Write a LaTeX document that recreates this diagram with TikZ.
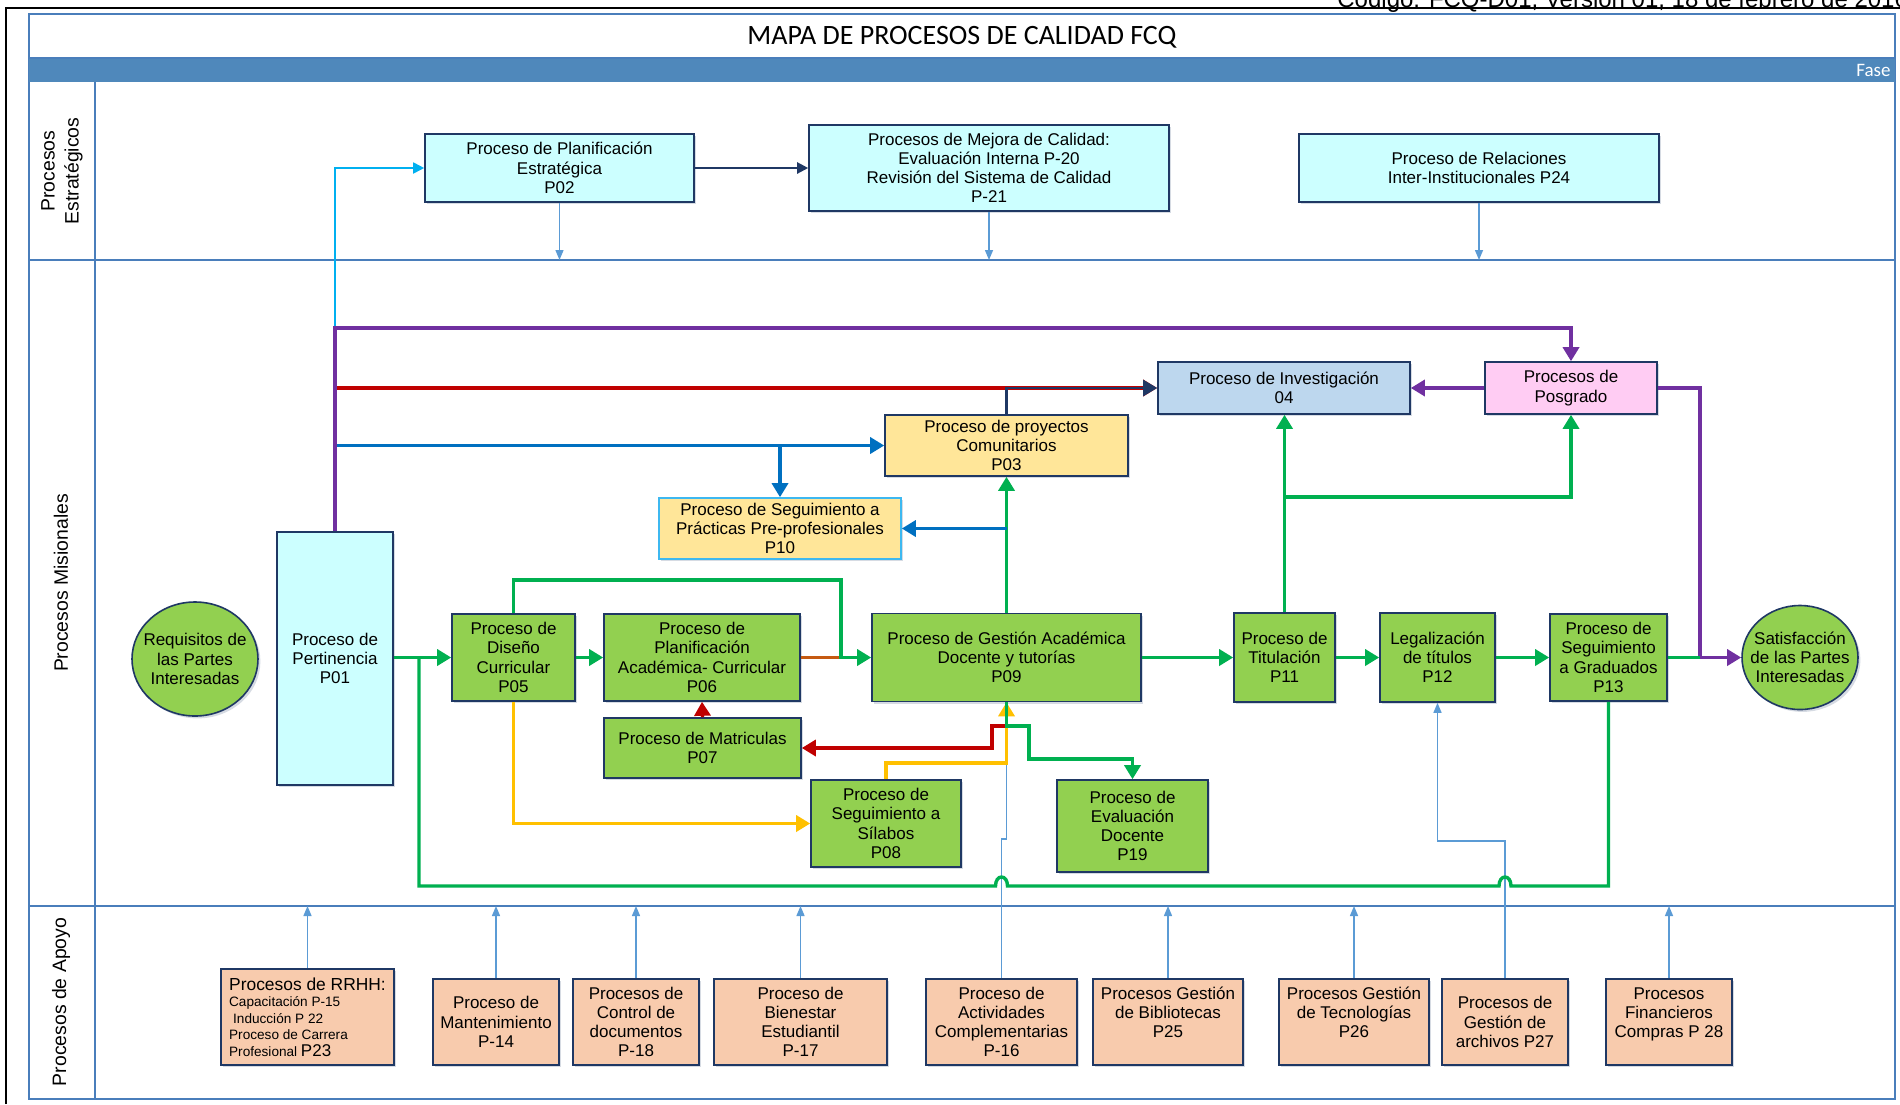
\documentclass[tikz,border=0pt]{standalone}
\usepackage{fontspec}
\setmainfont{Liberation Sans}
\newfontfamily\calib{Carlito}
\usetikzlibrary{arrows.meta,shapes.geometric,shadows,calc}
\definecolor{navyb}{HTML}{1F3864}
\definecolor{gfill}{HTML}{92D050}
\definecolor{cfill}{HTML}{CCFFFF}
\definecolor{yfill}{HTML}{FFE699}
\definecolor{bfill}{HTML}{BDD7EE}
\definecolor{pfill}{HTML}{FFCCF3}
\definecolor{ofill}{HTML}{F8CBAD}
\definecolor{cgreen}{HTML}{00B050}
\definecolor{cpurple}{HTML}{7030A0}
\definecolor{cred}{HTML}{C00000}
\definecolor{cblue}{HTML}{0070C0}
\definecolor{ccyan}{HTML}{00B0F0}
\definecolor{cyellow}{HTML}{FFC000}
\definecolor{corange}{HTML}{C55A11}
\definecolor{cthin}{HTML}{5B9BD5}
\definecolor{lanec}{HTML}{4A7EBB}
\definecolor{faseb}{HTML}{4F88BB}
\definecolor{ptenb}{HTML}{3DB8F0}
\begin{document}
\begin{tikzpicture}[x=0.5pt,y=-0.5pt,
  box/.style={draw=navyb, line width=0.8pt, align=center, inner sep=1pt,
    font=\fontsize{8.5}{9.6}\selectfont,
    drop shadow={shadow xshift=1.2pt, shadow yshift=-1.2pt, opacity=0.18, fill=navyb}},
  txt/.style={align=center, inner sep=0pt, font=\fontsize{8.5}{9.6}\selectfont},
  sz/.style 2 args={minimum width=#1pt, minimum height=#2pt},
  lanelabel/.style={rotate=90, align=center, font=\fontsize{9.7}{12}\selectfont},
  laneline/.style={draw=lanec, line width=0.8pt},
  ln/.style={line width=1.7pt},
  ar/.style={-{Triangle[length=7pt,width=8pt]}},
  thinar/.style={draw=cthin, line width=0.7pt, -{Triangle[length=5pt,width=4pt]}},
  thinln/.style={draw=cthin, line width=0.7pt}
]
\useasboundingbox (0,0) rectangle (1900,1104);
\fill[white] (0,0) rectangle (1900,1104);

% header / frame
\node[anchor=base west, inner sep=0pt, font=\fontsize{12}{14}\selectfont] (codigo) at (1337,7) {Código: FCQ-D01, Versión 01, 18 de febrero de 2016};
\draw[line width=1pt] (6,1104) -- (6,8) -- (1900,8);
\draw[laneline] (29,14) rectangle (1895,1099);
\fill[faseb] (29,58) rectangle (1895,82);
\draw[laneline] (29,58) -- (1895,58);
\node[anchor=east, text=white, inner sep=0pt, font=\calib\fontsize{9.5}{11}\selectfont] (fase) at (1891,70) {Fase};
\node[font=\calib\fontsize{14}{16}\selectfont] (title) at (962,37) {MAPA DE PROCESOS DE CALIDAD FCQ};
\draw[laneline] (29,260) -- (1895,260);
\draw[laneline] (29,906) -- (1895,906);
\draw[laneline] (95,82) -- (95,1099);
\node[lanelabel] (lab1) at (62,171) {Procesos\\Estratégicos};
\node[lanelabel] (lab2) at (61,583) {Procesos Misionales};
\node[lanelabel] (lab3) at (61,1002) {Procesos de Apoyo};

% coordinates
\coordinate (l1) at (95,260);
\coordinate (l2) at (95,906);
\coordinate (pv) at (335,328);
\coordinate (j1) at (841,580);
\coordinate (j2) at (1700,657.5);
\coordinate (j3) at (1284.5,497);
\coordinate (lp) at (419,886);
\coordinate (yy) at (0,763);
\coordinate (g1) at (1029,726);
\coordinate (g2) at (1132.5,759);
\coordinate (r1) at (992,748);
\coordinate (t1) at (0,839);
\coordinate (t2) at (0,841);

% strategic
\node[box, fill=cfill, sz={134.5}{34}] (p02) at (559.5,168) {Proceso de Planificación\\Estratégica\\P02};
\node[box, fill=cfill, sz={180}{43}] (p20) at (989,168) {Procesos de Mejora de Calidad:\\Evaluación Interna P-20\\Revisión del Sistema de Calidad\\P-21};
\node[box, fill=cfill, sz={180}{34}] (p24) at (1479,168) {Proceso de Relaciones\\Inter-Institucionales P24};

% misionales
\node[box, ellipse, fill=gfill, sz={63}{57}, inner sep=0pt] (req) at (195,659) {};
\node[txt] (reqtext) at (req.center) {Requisitos de\\las Partes\\Interesadas};
\node[box, fill=cfill, sz={58}{126.5}] (p01) at (335,658.5) {Proceso de\\Pertinencia\\P01};
\node[box, fill=gfill, sz={61.5}{43.5}] (p05) at (513.5,657.5) {Proceso de\\Diseño\\Curricular\\P05};
\node[box, fill=gfill, sz={98}{43.5}] (p06) at (702,657.5) {Proceso de\\Planificación\\Académica- Curricular\\P06};
\node[box, fill=gfill, sz={134.5}{44}] (p09) at (1006.5,657.5) {Proceso de Gestión Académica\\Docente y tutorías\\P09};
\node[box, fill=yfill, sz={121.5}{30.5}] (p03) at (1006.5,445.5) {Proceso de proyectos\\Comunitarios\\P03};
\node[box, draw=ptenb, fill=yfill, sz={121}{30.5}] (p10) at (780,528.5) {Proceso de Seguimiento a\\Prácticas Pre-profesionales\\P10};
\node[box, fill=bfill, sz={126}{26}] (pinv) at (1284,388) {Proceso de Investigación\\04};
\node[box, fill=pfill, sz={86}{26}] (posg) at (1571,388) {Procesos de\\Posgrado};
\node[box, fill=gfill, sz={50.5}{44.5}] (p11) at (1284.5,657.5) {Proceso de\\Titulación\\P11};
\node[box, fill=gfill, sz={57.5}{44.5}] (p12) at (1437.5,657.5) {Legalización\\de títulos\\P12};
\node[box, fill=gfill, sz={58.5}{43.5}] (p13) at (1608.5,657.5) {Proceso de\\Seguimiento\\a Graduados\\P13};
\node[box, ellipse, fill=gfill, sz={58}{52}, inner sep=0pt] (sat) at (1800,657.5) {};
\node[txt] (sattext) at (sat.center) {Satisfacción\\de las Partes\\Interesadas};
\node[box, fill=gfill, sz={98.5}{30}] (p07) at (702.5,748) {Proceso de Matriculas\\P07};
\node[box, fill=gfill, sz={75}{43.5}] (p08) at (886,823.5) {Proceso de\\Seguimiento a\\Sílabos\\P08};
\node[box, fill=gfill, sz={75.5}{46}] (p19) at (1132.5,826) {Proceso de\\Evaluación\\Docente\\P19};

% apoyo
\node[box, fill=ofill, sz={86.5}{48}, align=left, font=\fontsize{6.8}{8.2}\selectfont] (rrhh) at (307.5,1017)
  {{\fontsize{8.7}{9}\selectfont Procesos de RRHH:}\\Capacitación P-15\\\hspace{2pt}Inducción P 22\\Proceso de Carrera\\Profesional {\fontsize{8.5}{9}\selectfont P23}};
\node[box, fill=ofill, sz={63}{43}] (p14) at (496,1022) {Proceso de\\Mantenimiento\\P-14};
\node[box, fill=ofill, sz={63}{43}] (p18) at (636,1022) {Procesos de\\Control de\\documentos\\P-18};
\node[box, fill=ofill, sz={86.5}{43}] (p17) at (800.5,1022) {Proceso de\\Bienestar\\Estudiantil\\P-17};
\node[box, fill=ofill, sz={75.5}{43}] (p16) at (1001.5,1022) {Proceso de\\Actividades\\Complementarias\\P-16};
\node[box, fill=ofill, sz={75}{43}] (p25) at (1168,1022) {Procesos Gestión\\de Bibliotecas\\P25\\\mbox{}};
\node[box, fill=ofill, sz={75}{43}] (p26) at (1354,1022) {Procesos Gestión\\de Tecnologías\\P26\\\mbox{}};
\node[box, fill=ofill, sz={63}{43}] (p27) at (1505,1022) {Procesos de\\Gestión de\\archivos P27};
\node[box, fill=ofill, sz={63}{43}] (p28) at (1669,1022) {Procesos\\Financieros\\Compras P 28\\\mbox{}};

% thin blue connectors
\draw[thinar] (p02.south) -- (p02.south |- l1);
\draw[thinar] (p20.south) -- (p20.south |- l1);
\draw[thinar] (p24.south) -- (p24.south |- l1);
\draw[thinar] (rrhh.north) -- (rrhh.north |- l2);
\draw[thinar] (p14.north) -- (p14.north |- l2);
\draw[thinar] (p18.north) -- (p18.north |- l2);
\draw[thinar] (p17.north) -- (p17.north |- l2);
\draw[thinar] (p25.north) -- (p25.north |- l2);
\draw[thinar] (p26.north) -- (p26.north |- l2);
\draw[thinar] (p28.north) -- (p28.north |- l2);
\draw[thinar] (p16.north) -- (p16.north |- t1) -| (p09.south);
\draw[thinar] (p27.north) -- (p27.north |- t2) -| (p12.south);

% upper connectors
\draw[draw=ccyan, line width=0.9pt, -{Triangle[length=5.5pt,width=5.5pt]}] (p01.north) |- (p02.west);
\draw[draw=navyb, line width=1.1pt, -{Triangle[length=5.5pt,width=5.5pt]}] (p02.east) -- (p20.west);
\draw[draw=cred, ln, ar] (p01.north |- pinv.west) -- (pinv.west);
\draw[draw=navyb, line width=1.1pt, ar] (p03.north) |- (pinv.west);
\draw[draw=cblue, ln, ar] (p01.north |- p03.west) -- (p03.west);
\draw[draw=cblue, ln, ar] (p10.north |- p03.west) -- (p10.north);
\draw[draw=cpurple, ln, ar] (p01.north) -- (p01.north |- pv) -| (posg.north);
\draw[draw=cpurple, ln, ar] (posg.west) -- (pinv.east);
\draw[draw=cpurple, ln, ar] (posg.east) -| (j2) -- (sat.west);

% green flow
\draw[draw=cgreen, ln] (p13.south) -- (p13.south |- lp)
  -- ($(p27.north |- lp)+(6,0)$) .. controls +(0,-12) and +(0,-12) .. ($(p27.north |- lp)+(-6,0)$)
  -- ($(p16.north |- lp)+(6,0)$) .. controls +(0,-12) and +(0,-12) .. ($(p16.north |- lp)+(-6,0)$)
  -- (lp) -- (lp |- p05.west);
\draw[draw=cgreen, ln, ar] (p01.east |- p05.west) -- (p05.west);
\draw[draw=cgreen, ln, ar] (p05.east) -- (p06.west);
\draw[draw=corange, ln] (p06.east) -- (j1 |- p09.west);
\draw[draw=cgreen, ln, ar] (p05.north) |- (j1) |- (p09.west);
\draw[draw=cgreen, ln, ar] (p09.north) -- (p03.south);
\draw[draw=cblue, ln, ar] (p09.north |- p10.east) -- (p10.east);
\draw[draw=cgreen, ln, ar] (p09.east) -- (p11.west);
\draw[draw=cgreen, ln, ar] (p11.east) -- (p12.west);
\draw[draw=cgreen, ln, ar] (p12.east) -- (p13.west);
\draw[draw=cgreen, ln] (p13.east) -- (j2);
\draw[draw=cgreen, ln, ar] (p11.north) -- (p11.north |- pinv.south);
\draw[draw=cgreen, ln, ar] (p11.north |- j3) -| (posg.south);

% lower connectors
\draw[draw=cyellow, ln, ar] (p05.south) |- (p08.west);
\draw[draw=cyellow, ln, ar] (p08.north) |- (p09.south |- yy) -- (p09.south);
\draw[draw=cred, ln, ar] (p09.south |- g1) -| (r1) -- (p07.east);
\draw[draw=cred, ln, ar] (p07.north) -- (p06.south);
\draw[draw=cgreen, ln, ar] (p09.south) |- (g1) |- (g2) -- (p19.north);
\end{tikzpicture}
\end{document}
